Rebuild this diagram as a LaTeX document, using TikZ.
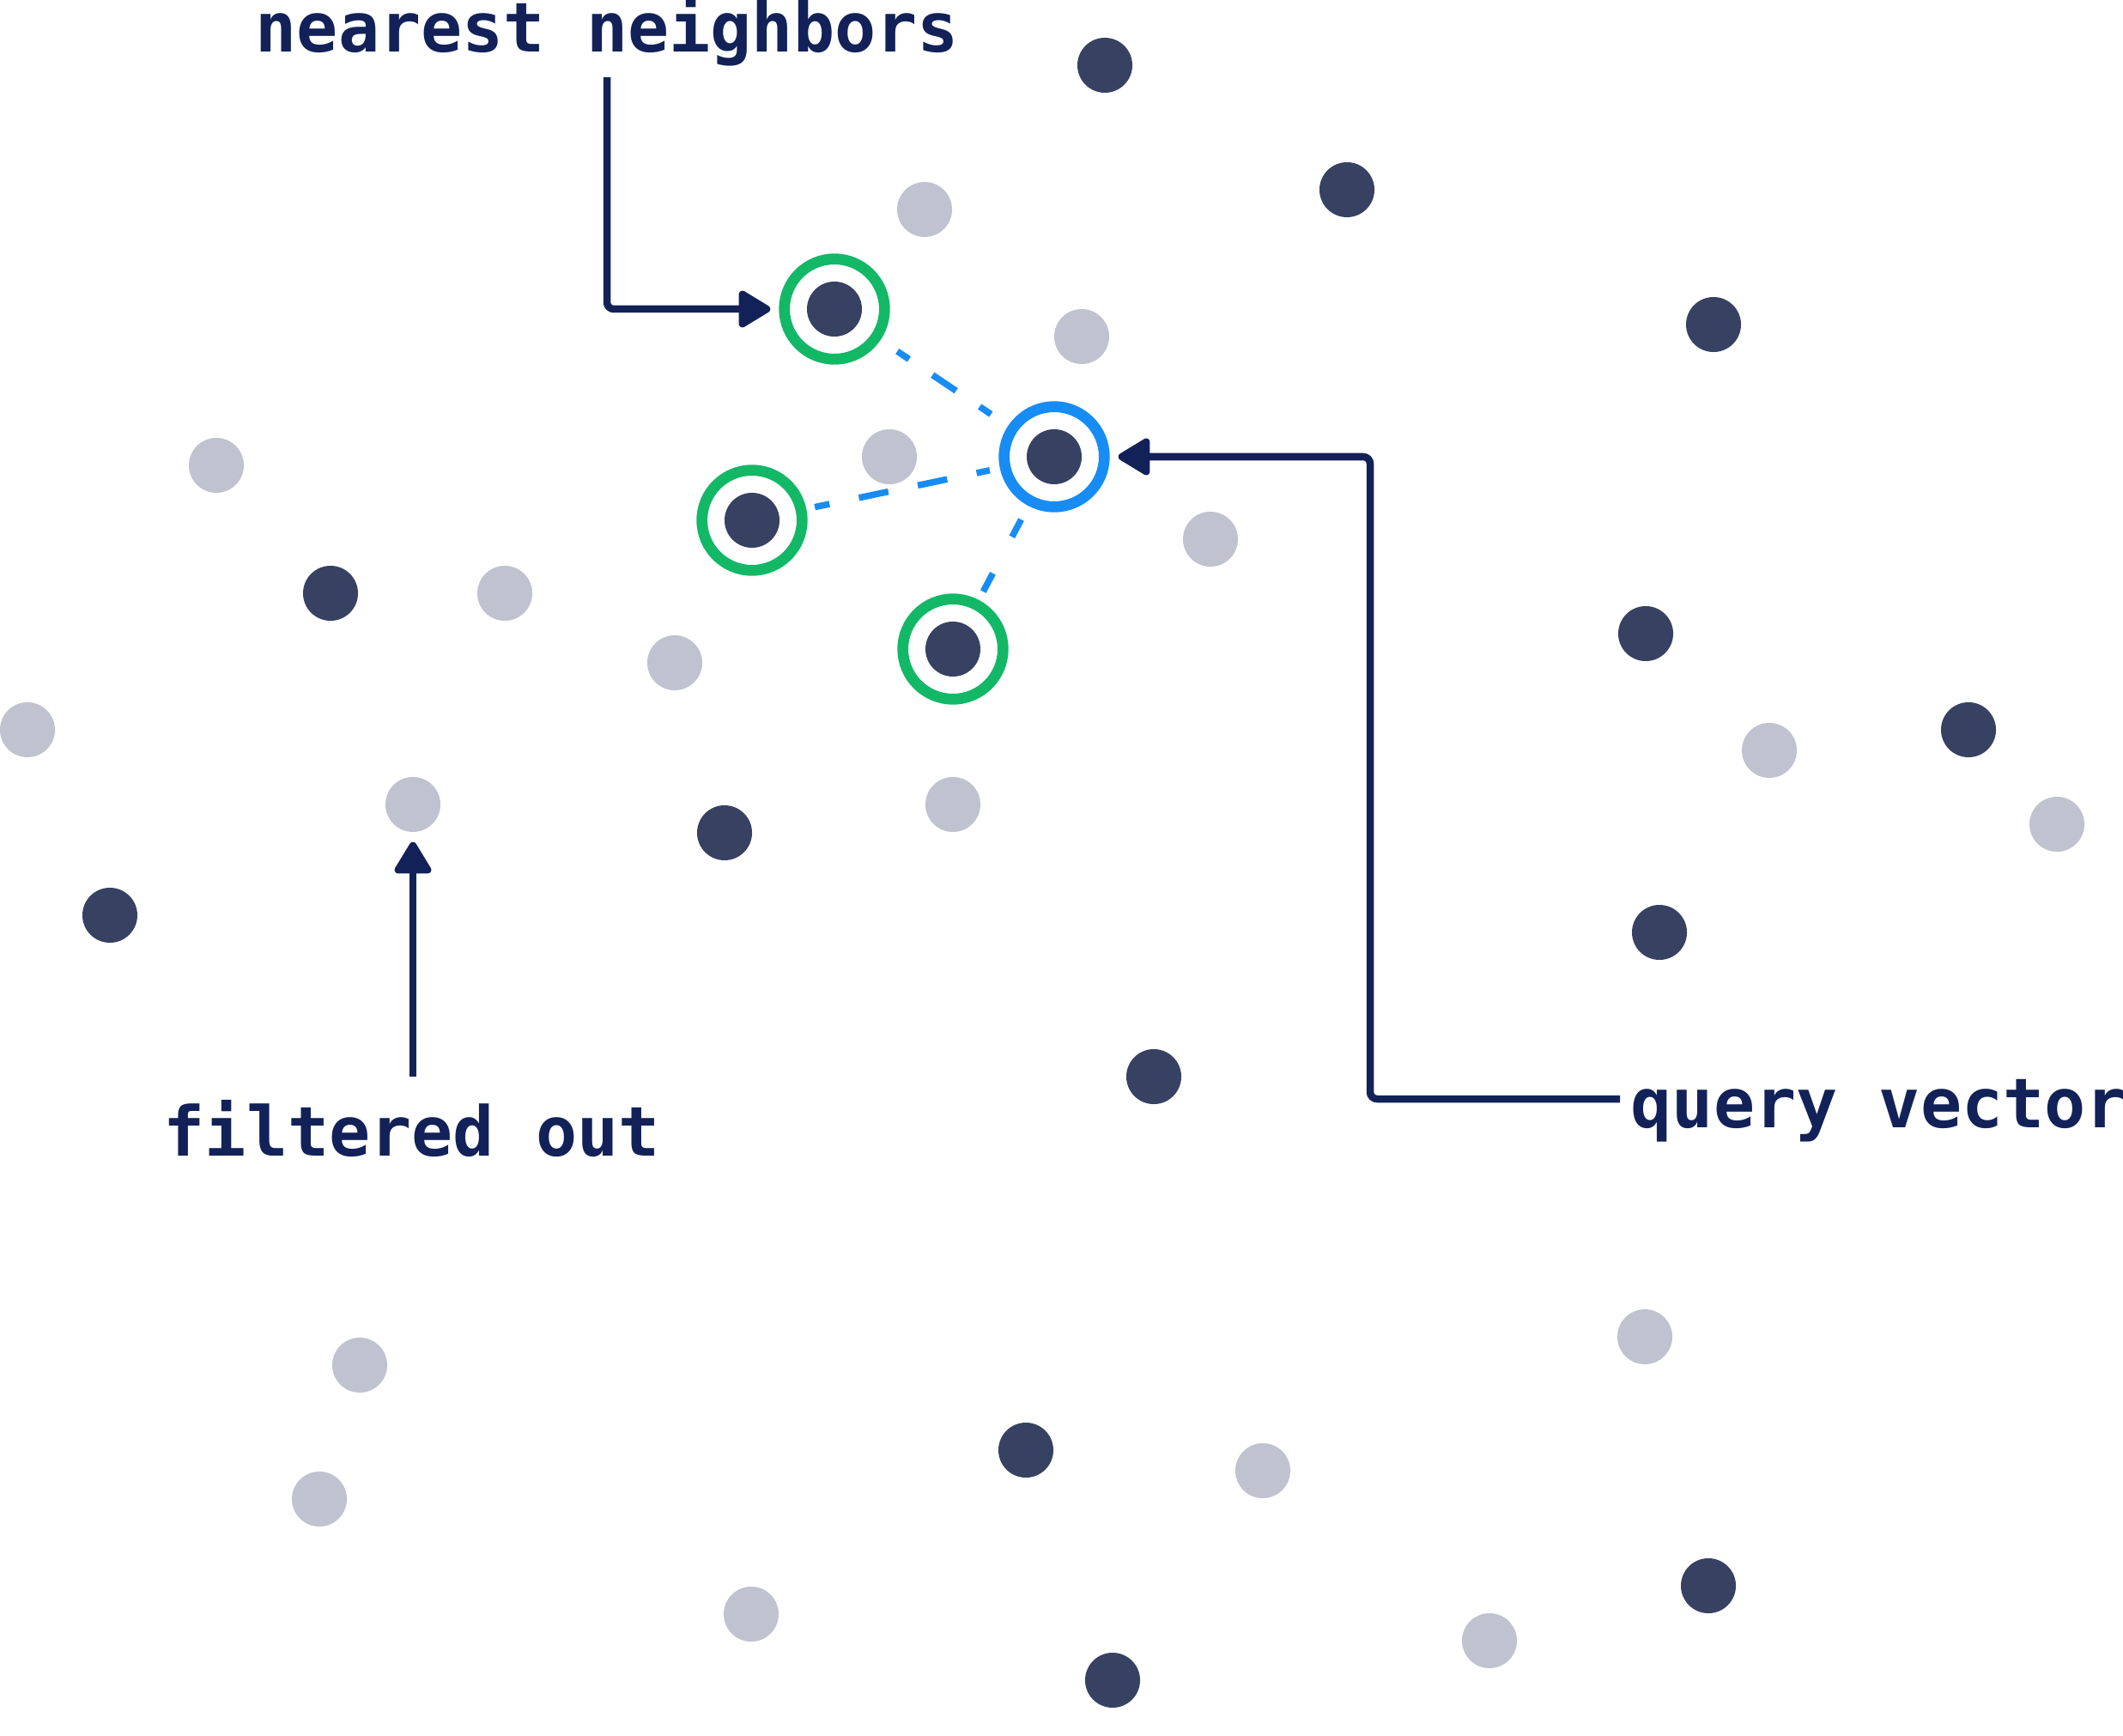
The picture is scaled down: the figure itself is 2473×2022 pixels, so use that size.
\documentclass[tikz,border=0pt]{standalone}
\usepackage{fontspec}
\newfontfamily\labelfont{DejaVu Sans Mono}
\usetikzlibrary{arrows.meta, positioning}
\definecolor{dotdark}{RGB}{55,66,98}
\definecolor{dotlight}{RGB}{192,195,207}
\definecolor{ink}{RGB}{18,34,88}
\definecolor{ringgreen}{RGB}{19,184,102}
\definecolor{ringblue}{RGB}{23,140,245}
\begin{document}
\begin{tikzpicture}[x=0.01cm, y=-0.01cm,
	darkdot/.style={circle, fill=dotdark, inner sep=0pt, minimum size=0.64cm},
	greydot/.style={circle, fill=dotlight, inner sep=0pt, minimum size=0.64cm},
	ring/.style={circle, draw=#1, line width=0.127cm, inner sep=0pt, minimum size=1.166cm},
	pointer/.style={draw=ink, line width=0.085cm, rounded corners=0.08cm,
		-{Triangle[length=0.41cm, width=0.47cm, round]}},
	link/.style={draw=ringblue, line width=0.075cm},
	note/.style={inner sep=0pt, anchor=base west, text=ink,
		font=\labelfont\bfseries\fontsize{22.76}{27}\selectfont}]
	\useasboundingbox (0,0) rectangle (2473,2022);
	\foreach \x/\y [count=\i] in {1287/76, 1569/221, 972/360, 1996/378, 1228/532,
		876/606, 385/691, 1110/756, 1917/738, 2293/850, 844/970, 128/1066,
		1933/1086, 1344/1254, 1195/1689, 1990/1847, 1296/1957}
	\node[darkdot] (d\i) at (\x,\y) {};
	\foreach \x/\y [count=\i] in {1077/244, 1260/392, 252/542, 1036/532, 1410/628,
		588/691, 786/772, 32/850, 2061/874, 2396/960, 1110/937, 1916/1557,
		419/1590, 1471/1713, 372/1746, 875/1880, 1735/1911}
	\node[greydot] (g\i) at (\x,\y) {};
	\node[greydot] (filtered) at (481,937) {};
	\node[ring=ringgreen] (nb1) at (972,360) {};
	\node[ring=ringgreen] (nb2) at (876,606) {};
	\node[ring=ringgreen] (nb3) at (1110,756) {};
	\node[ring=ringblue] (qv) at (1228,532) {};
	\draw[link, shorten <=0.235cm, shorten >=0.24cm,
		dash pattern=on 0.33cm off 0.33cm, dash phase=0.165cm] (nb1) -- (qv);
	\draw[link, shorten <=0.10cm, shorten >=0.12cm,
		dash pattern=on 0.35cm off 0.35cm, dash phase=0.175cm] (nb2) -- (qv);
	\draw[link, shorten <=0.11cm, shorten >=0.18cm,
		dash pattern=on 0.48cm off 0.48cm, dash phase=0.24cm] (nb3) -- (qv);
	\node[note] (nntext) at (297,60.7) {nearest neighbors};
	\node[note] (fotext) at (190,1346) {filtered out};
	\node[note] (qvtext) at (1899,1313.5) {query vector};
	\coordinate (nntail) at (707,90);
	\coordinate (fotail) at (481,1254);
	\coordinate (qvtail) at (1887,1280);
	\coordinate (qvbend) at (1596,532);
	\draw[pointer, shorten >=0.1cm] (nntail) |- (nb1);
	\draw[pointer, shorten >=0.11cm] (fotail) -- (filtered);
	\draw[pointer, shorten >=0.1cm] (qvtail) -| (qvbend) -- (qv);
\end{tikzpicture}
\end{document}
